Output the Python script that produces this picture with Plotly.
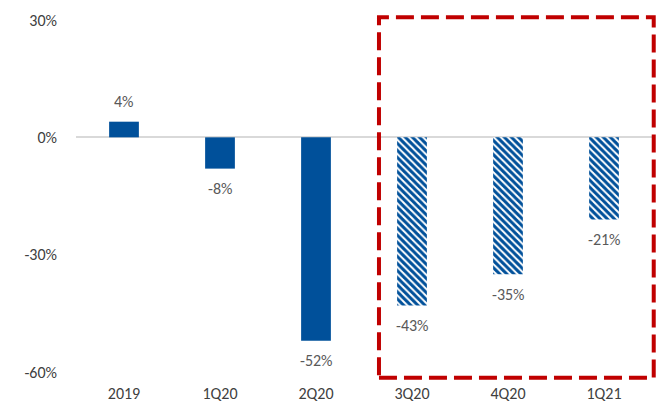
import plotly.graph_objects as go

categories = ["2019", "1Q20", "2Q20", "3Q20", "4Q20", "1Q21"]
values = [4, -8, -52, -43, -35, -21]
hatched = [False, False, False, True, True, True]
tick_vals = [30, 0, -30, -60]
tick_text = ["30%", "0%", "-30%", "-60%"]

blue = "#00509A"
font_family = "Carlito, Calibri, Lato, 'Open Sans', sans-serif"

solid_x = [c for c, h in zip(categories, hatched) if not h]
solid_y = [v for v, h in zip(values, hatched) if not h]
hatch_x = [c for c, h in zip(categories, hatched) if h]
hatch_y = [v for v, h in zip(values, hatched) if h]

fig = go.Figure()
fig.add_trace(go.Bar(
    x=solid_x, y=solid_y, width=0.31,
    marker=dict(color=blue, line=dict(width=0)),
))
fig.add_trace(go.Bar(
    x=hatch_x, y=hatch_y, width=0.31,
    marker=dict(
        color=blue, line=dict(width=0),
        pattern=dict(shape="\\", fgcolor=blue, bgcolor="white",
                     fillmode="replace", size=5, solidity=0.6),
    ),
))

for i, v in enumerate(values):
    fig.add_annotation(
        x=i, y=v, text=f"{v}%", showarrow=False,
        yshift=20 if v >= 0 else -20, yanchor="middle",
        font=dict(size=16, color="#595959", family=font_family),
    )

fig.add_shape(
    type="rect", xref="paper", yref="paper",
    x0=0.526, x1=1.003, y0=-0.016, y1=1.008,
    line=dict(color="#C00000", width=4, dash="18px,7px"),
    fillcolor="rgba(0,0,0,0)",
)

fig.update_layout(
    width=661, height=407,
    margin=dict(l=76, r=9, t=20, b=35, autoexpand=False),
    paper_bgcolor="white", plot_bgcolor="white",
    showlegend=False, barmode="overlay",
    font=dict(family=font_family, size=16, color="#404040"),
)
fig.update_yaxes(
    range=[-60, 30], tickvals=tick_vals, ticktext=tick_text,
    showgrid=False, zeroline=True, zerolinecolor="#D9D9D9", zerolinewidth=1.5,
    showline=False, ticks="", ticklabelstandoff=18, automargin=False,
    tickfont=dict(size=16, color="#404040"),
)
fig.update_xaxes(
    type="category", range=[-0.5, len(categories) - 0.5],
    categoryorder="array", categoryarray=categories,
    showgrid=False, showline=False, ticks="", ticklabelstandoff=10, automargin=False,
    tickfont=dict(size=16, color="#404040"),
)

fig.write_html("out.html")
